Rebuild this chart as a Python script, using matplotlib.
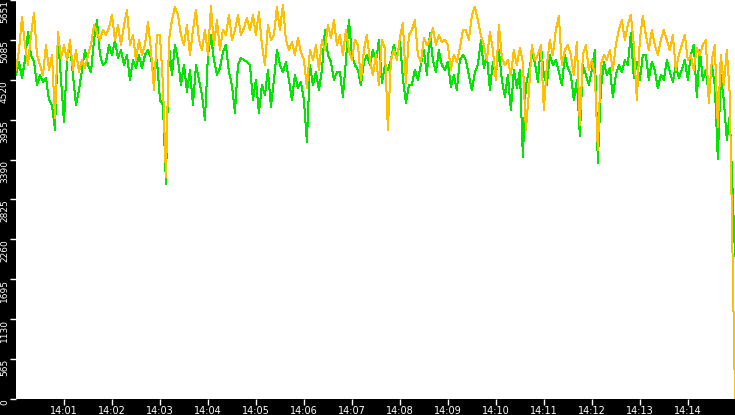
import matplotlib
matplotlib.use("Agg")
import matplotlib.pyplot as plt

# sample times: seconds after 14:00:00 (3.75 s sampling; last sample at 14:14:59)
sample_step_s = 3.75
n_regular = 239
times = [i * sample_step_s for i in range(n_regular)] + [899]

orange_vals = [
    # 14:00:00 - 14:03:45
    4660, 4943, 5410, 5014, 4730, 5155, 5467, 4872, 4730, 4589, 5014, 4660,
    4872, 3980, 5198, 4830, 5014, 4801, 5085, 4660, 4943, 4631, 4801, 4688,
    4872, 5014, 5297, 5184, 5085, 5226, 5155, 5255, 5439, 5085, 5297, 5014,
    5297, 5509, 5014, 5155, 4801, 5085, 4872, 5014, 5339, 4943, 4376, 5155,
    5155, 4447, 3144, 5085, 5368, 5552, 5439, 5155, 5014, 5297, 4872, 5226,
    # 14:03:45 - 14:07:30
    5509, 5085, 4943, 5226, 4872, 5566, 5014, 5368, 4943, 5226, 5155, 5439,
    5085, 5226, 5439, 5155, 5255, 5396, 5226, 5439, 5155, 5481, 5014, 4730,
    5297, 5085, 5155, 5552, 5226, 5580, 5085, 4943, 5056, 4872, 5113, 4914,
    4801, 4405, 4943, 4801, 5014, 4660, 5085, 4943, 5297, 5113, 5368, 5014,
    5155, 4872, 5226, 4943, 4801, 5085, 5014, 4518, 4943, 5155, 4801, 4589,
    # 14:07:30 - 14:11:15
    4872, 4447, 5085, 4971, 3810, 4801, 4943, 4801, 5113, 5325, 4476, 5155,
    5226, 5368, 4872, 4773, 5113, 5014, 5085, 5255, 5014, 5155, 5056, 5085,
    5014, 4660, 4872, 4773, 4971, 5226, 5226, 5085, 5439, 5552, 5368, 5155,
    5014, 4801, 5198, 4943, 4518, 5297, 4830, 4730, 4801, 4589, 4943, 4730,
    4971, 4773, 3810, 4334, 5014, 4801, 4872, 5014, 4093, 4730, 5085, 4872,
    # 14:11:15 - 14:14:59
    5226, 5424, 4730, 4943, 5014, 4872, 4589, 5056, 3880, 4872, 5014, 4660,
    4801, 4589, 3527, 4730, 4872, 4801, 4943, 4660, 5014, 5226, 5368, 5085,
    5297, 5439, 5014, 4235, 5085, 5424, 5155, 4943, 5226, 5014, 4872, 5085,
    5226, 5085, 4943, 5155, 4660, 4872, 5014, 5155, 4801, 4872, 4660, 4971,
    4872, 5014, 5085, 4192, 4801, 5014, 3852, 4872, 4447, 4943, 4306,
    0,
]

green_vals = [
    # 14:00:00 - 14:03:45
    4589, 4773, 4546, 4801, 5198, 4872, 4773, 4447, 4589, 4490, 4546, 4235,
    4164, 3810, 5127, 4518, 3923, 4801, 5014, 4589, 4164, 4376, 4660, 4943,
    4730, 4631, 5085, 5368, 4872, 4730, 4773, 5014, 4872, 5085, 4830, 4943,
    4730, 4872, 4518, 4801, 4688, 4872, 4688, 4872, 4943, 4830, 4560, 4801,
    4235, 4164, 3045, 5014, 4589, 5014, 4801, 4447, 4730, 4348, 4660, 4164,
    # 14:03:45 - 14:07:30
    4730, 4518, 4306, 3951, 4872, 5155, 4801, 4589, 4688, 4914, 5014, 4631,
    4447, 4051, 4730, 4830, 4801, 4773, 4730, 4235, 4518, 4051, 4447, 4306,
    4660, 4136, 4518, 4943, 4730, 4631, 4773, 4518, 4235, 4589, 4405, 4490,
    4235, 3640, 4730, 4447, 4631, 4376, 4660, 5226, 4872, 4773, 4518, 4631,
    4631, 4277, 4801, 5368, 4872, 4730, 4660, 4447, 4773, 4872, 4730, 4943,
    # 14:07:30 - 14:11:15
    4773, 5085, 4476, 4730, 4660, 4801, 5014, 4801, 5085, 4546, 4192, 4447,
    4447, 4660, 4518, 4730, 4943, 4589, 5184, 4801, 4631, 4943, 4730, 4660,
    4773, 4419, 4589, 4376, 4801, 4872, 4801, 4589, 4376, 4631, 4730, 5085,
    4688, 4872, 4376, 4773, 4589, 4943, 4518, 4277, 4589, 4093, 4660, 4405,
    4660, 3427, 4447, 4631, 4872, 4773, 4490, 5014, 4589, 4447, 4872, 4730,
    # 14:11:15 - 14:14:59
    4801, 4631, 4447, 4872, 4688, 4589, 4235, 4518, 3725, 4730, 4589, 4447,
    4660, 4943, 3342, 4376, 4773, 4589, 4688, 4277, 4589, 4730, 4631, 4801,
    4730, 5184, 4546, 4773, 4518, 4872, 4872, 4518, 4773, 4660, 4405, 4589,
    4518, 4801, 4631, 4490, 4730, 4546, 4660, 4801, 4518, 4872, 5014, 4277,
    4943, 4518, 4660, 4306, 4730, 4447, 3399, 4589, 4235, 3668, 4022,
    2025,
]

y_max = 5651
y_ticks = [0, 565.1, 1130.2, 1695.3, 2260.4, 2825.5, 3390.6, 3955.7, 4520.8, 5085.9, 5651]
y_tick_labels = ["0", "565", "1130", "1695", "2260", "2825", "3390", "3955", "4520", "5085", "5651"]
x_ticks = [60 * m for m in range(1, 15)]
x_tick_labels = ["14:%02d" % m for m in range(1, 15)]

W, H = 735, 415
fig = plt.figure(figsize=(W / 100, H / 100), dpi=100, facecolor="black")
ax = fig.add_axes([16 / W, 16 / H, 719 / W, 399 / H])
ax.set_facecolor("white")

ax.plot(times, green_vals, color="#00e600", lw=0.72, antialiased=False, zorder=2)
ax.plot(times, orange_vals, color="#ffc000", lw=0.72, antialiased=False, zorder=3)

ax.set_xlim(0, 899)
ax.set_ylim(0, y_max)
ax.set_xticks(x_ticks)
ax.set_xticklabels(x_tick_labels)
ax.set_yticks(y_ticks)
ax.set_yticklabels(y_tick_labels)

for s in ax.spines.values():
    s.set_visible(False)

ax.tick_params(axis="x", colors="white", length=4, width=1, pad=1, labelsize=7, direction="out")
ax.tick_params(axis="y", colors="white", length=4, width=1, pad=1, labelsize=6.5, direction="out")
for lbl in ax.get_yticklabels():
    lbl.set_rotation(90)
    lbl.set_va("top")
    lbl.set_ha("right")

fig.savefig("out.png", dpi=100, facecolor="black")
